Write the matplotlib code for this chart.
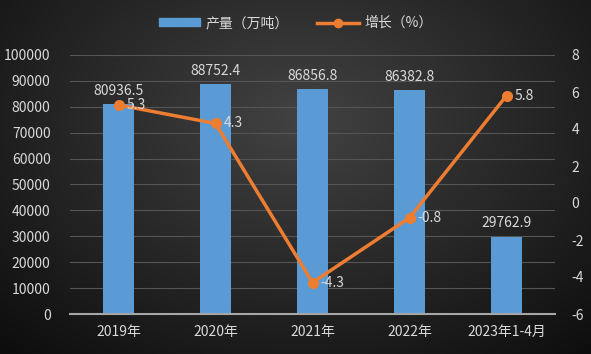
import numpy as np
import matplotlib.pyplot as plt
from matplotlib.lines import Line2D
from matplotlib.patches import Patch

plt.rcParams['font.family'] = ['Noto Sans CJK SC', 'DejaVu Sans']
plt.rcParams['axes.unicode_minus'] = False

categories = ['2019年', '2020年', '2021年', '2022年', '2023年1-4月']
output = [80936.5, 88752.4, 86856.8, 86382.8, 29762.9]
growth = [5.3, 4.3, -4.3, -0.8, 5.8]

txt = '#d9d9d9'
grid = '#555555'
fs = 10

fig = plt.figure(figsize=(5.91, 3.54), dpi=100)

# dark radial background
bg = fig.add_axes([0, 0, 1, 1], zorder=-10)
yy, xx = np.mgrid[0:354, 0:591]
r = np.sqrt(((xx - 300) / 420.0) ** 2 + ((yy - 120) / 300.0) ** 2)
shade = np.clip(0.26 - 0.2 * r, 0.03, 0.26)
bg.imshow(np.dstack([shade] * 3), aspect='auto', extent=[0, 1, 0, 1])
bg.set_axis_off()

ax = fig.add_axes([70 / 591, 1 - 314 / 354, 485 / 591, 259 / 354])
ax.patch.set_alpha(0)
x = np.arange(len(categories))
ax.bar(x, output, width=0.31, color='#5b9bd5', zorder=2)
ax.set_xlim(-0.5, len(categories) - 0.5)
ax.set_ylim(0, 100000)
ax.set_yticks(range(0, 100001, 10000))
ax.yaxis.grid(True, color=grid, linewidth=0.8)
ax.set_axisbelow(True)
for s in ['top', 'right', 'left']:
    ax.spines[s].set_visible(False)
ax.spines['bottom'].set_color('#a6a6a6')
ax.spines['bottom'].set_linewidth(1.5)
ax.tick_params(axis='both', length=0, colors=txt, labelsize=fs)
ax.tick_params(axis='y', pad=14)
ax.tick_params(axis='x', pad=8)
ax.set_xticks(x)
ax.set_xticklabels(categories)
for xi, v in zip(x, output):
    ax.text(xi, v + 2500, f'{v:.1f}', ha='center', va='bottom', color=txt, fontsize=fs)

ax2 = ax.twinx()
ax2.plot(x, growth, color='#ed7d31', linewidth=2.5, marker='o', markersize=7, zorder=3)
ax2.set_ylim(-6, 8)
ax2.set_yticks(range(-6, 9, 2))
for s in ax2.spines.values():
    s.set_visible(False)
ax2.tick_params(axis='y', length=0, colors=txt, labelsize=fs, pad=12)
for xi, v in zip(x, growth):
    ax2.text(xi + 0.08, v, f'{v}', ha='left', va='center', color=txt, fontsize=fs)

handles = [Patch(color='#5b9bd5'),
           Line2D([0], [0], color='#ed7d31', linewidth=2.5, marker='o', markersize=6)]
fig.legend(handles, ['产量（万吨）', '增长（%）'], loc='center', bbox_to_anchor=(0.5, 1 - 23 / 354),
           ncol=2, frameon=False, fontsize=fs, labelcolor=txt, handlelength=3.0,
           columnspacing=2.0, handleheight=0.45, handletextpad=0.4)

fig.savefig('out.png', dpi=100)
